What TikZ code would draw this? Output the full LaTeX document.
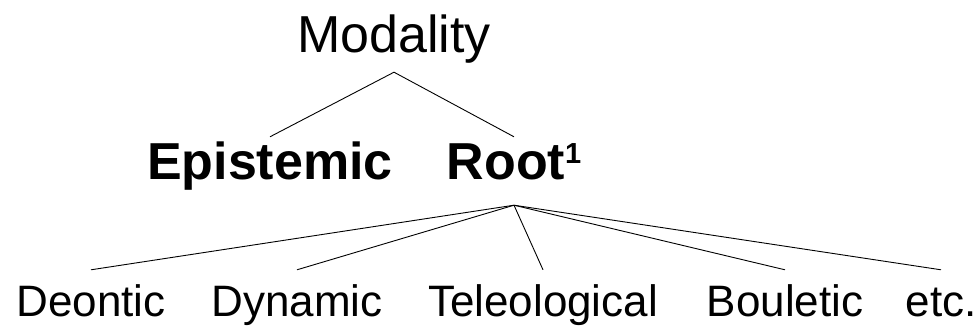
\documentclass[tikz,border=0pt]{standalone}
\usepackage{fontspec}
\setmainfont{Liberation Sans}
\tikzset{
  lvlA/.style={anchor=base, inner sep=0pt, text height=38pt, text depth=19pt, font=\fontsize{52}{60}\selectfont},
  lvlB/.style={anchor=base, inner sep=0pt, text height=43pt, text depth=25pt, font=\fontsize{52}{60}\selectfont\bfseries},
  lvlC/.style={anchor=base, inner sep=0pt, text height=46pt, text depth=10pt, font=\fontsize{44}{52}\selectfont},
  branch/.style={line width=0.9pt},
}
\newcommand{\rootsup}{\raisebox{17pt}{\fontsize{29}{29}\selectfont\bfseries 1}}

\begin{document}
\begin{tikzpicture}[x=1pt, y=-1pt]
        \useasboundingbox (0,0) rectangle (978,326);
        
        \node[lvlA] (mod) at (394,53) {Modality};
        
        \node[lvlB] (epi) at (270,180) {Epistemic};
        \node[lvlB] (root) at (514,180) {Root\rootsup};
        
        \node[lvlC] (deo) at (91,316) {Deontic};
        \node[lvlC] (dyn) at (297,316) {Dynamic};
        \node[lvlC] (tel) at (543,316) {Teleological};
        \node[lvlC] (bou) at (785,316) {Bouletic};
        \node[lvlC] (etc) at (941,316) {etc.};
        
        \draw[branch] (epi.north) -- (mod.south) -- (root.north);
        \foreach \leaf in {deo,dyn,tel,bou,etc}
            \draw[branch] (root.south) -- (\leaf.north);
    \end{tikzpicture}
\end{document}
